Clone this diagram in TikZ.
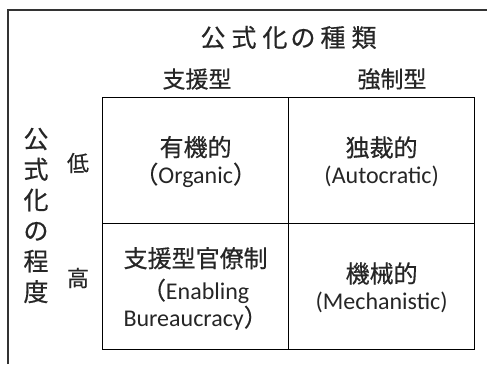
\documentclass[tikz,border=0pt]{standalone}
\usepackage{fontspec}
\setmainfont{Carlito}
\newfontfamily\jp[FakeBold=0.5]{Noto Sans CJK JP}
\definecolor{ink}{HTML}{262626}
\definecolor{framec}{HTML}{333333}
\begin{document}
\begin{tikzpicture}[x=1pt,y=-1pt,
  cell/.style={draw=black, line width=1.3pt, minimum width=186pt, minimum height=126pt, inner sep=0pt, anchor=north west},
  celltext/.style={align=center, text=ink, font=\fontsize{24}{27}\selectfont, inner sep=0pt},
  head/.style={text=ink, font=\jp\fontsize{23}{27}\selectfont, inner sep=0pt},
  axis/.style={text=ink, font=\jp\fontsize{25}{30.6}\selectfont, inner sep=0pt, align=center},
  level/.style={text=ink, font=\jp\fontsize{22}{26}\selectfont, inner sep=0pt}]
\useasboundingbox (0,0) rectangle (487,364);
\fill[white] (0,0) rectangle (487,364);
% outer frame (cropped)
\draw[framec, line width=1.6pt] (8,364) -- (8,10) -- (487,10);
% cells
\node[cell] (tl) at (102,97) {};
\node[cell] (tr) at (288,97) {};
\node[cell] (bl) at (102,223) {};
\node[cell] (br) at (288,223) {};
% cell texts
\node[celltext] (tlt) at ([yshift=-1pt]tl.center) {{\jp 有機的}\\{\jp （}Organic{\jp ）}};
\node[celltext] (trt) at ([yshift=-1pt]tr.center) {{\jp 独裁的}\\(Autocratic)};
\node[celltext] (blt) at ([yshift=-2pt]bl.center) {{\jp 支援型官僚制}\\[5pt]{\jp （}Enabling\\Bureaucracy{\jp ）}};
\node[celltext] (brt) at ([yshift=-1pt]br.center) {{\jp 機械的}\\(Mechanistic)};
% headers
\node[text=ink, font=\jp\fontsize{25}{28}\selectfont, inner sep=0pt] (title) at (288.5,37.5) {公\kern6pt式\kern6pt化\kern3pt の\kern5pt種\kern6pt類};
\node[head] (h1) at (197,79) {支援型};
\node[head] (h2) at (392,79) {強制型};
% vertical axis
\node[axis] (vax) at (36,215.5) {公\\式\\化\\の\\程\\度};
\node[level] (lo) at (78,163) {低};
\node[level] (hi) at (78,278) {高};
\end{tikzpicture}
\end{document}
